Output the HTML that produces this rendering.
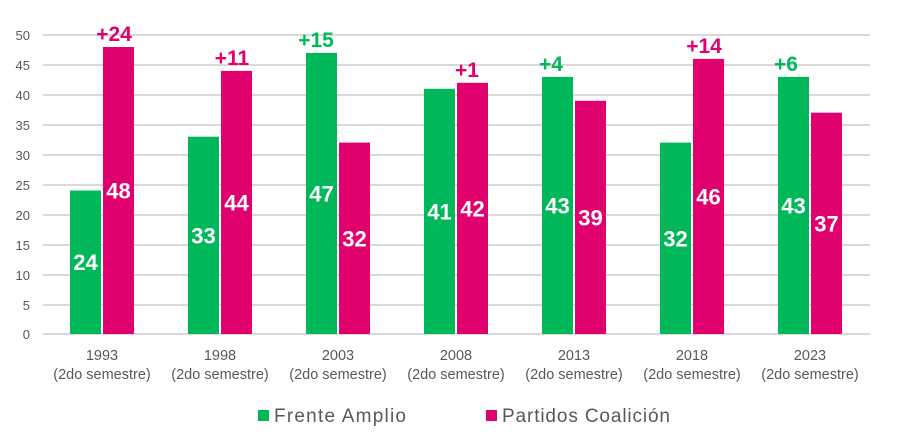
<!DOCTYPE html>
<html><head><meta charset="utf-8"><style>
html,body{margin:0;padding:0;background:#fff;}
svg{display:block;font-family:"Liberation Sans",sans-serif;}
</style></head><body>
<svg width="904" height="447" viewBox="0 0 904 447" xmlns="http://www.w3.org/2000/svg">
<g stroke="#d9d9d9" stroke-width="2">
<line x1="43" x2="870" y1="35" y2="35"/><line x1="43" x2="870" y1="65" y2="65"/>
<line x1="43" x2="870" y1="95" y2="95"/><line x1="43" x2="870" y1="125" y2="125"/>
<line x1="43" x2="870" y1="155" y2="155"/><line x1="43" x2="870" y1="185" y2="185"/>
<line x1="43" x2="870" y1="215" y2="215"/><line x1="43" x2="870" y1="245" y2="245"/>
<line x1="43" x2="870" y1="275" y2="275"/><line x1="43" x2="870" y1="305" y2="305"/>
<line x1="43" x2="870" y1="334" y2="334"/>
</g>
<g fill="#595959" font-size="13" text-anchor="end">
<text x="30" y="40">50</text><text x="30" y="70">45</text><text x="30" y="100">40</text>
<text x="30" y="130">35</text><text x="30" y="160">30</text><text x="30" y="190">25</text>
<text x="30" y="220">20</text><text x="30" y="250">15</text><text x="30" y="280">10</text>
<text x="30" y="310">5</text><text x="30" y="339">0</text>
</g>
<g fill="#00b85a">
<rect x="70" y="190.5" width="31" height="143.5"/>
<rect x="188" y="136.7" width="31" height="197.3"/>
<rect x="306" y="52.9" width="31" height="281.1"/>
<rect x="424" y="88.8" width="31" height="245.2"/>
<rect x="542" y="76.9" width="31" height="257.1"/>
<rect x="660" y="142.6" width="31" height="191.4"/>
<rect x="778" y="76.9" width="31" height="257.1"/>
<rect x="258" y="410" width="11" height="11"/>
</g>
<g fill="#e0006e">
<rect x="103" y="47" width="31" height="287"/>
<rect x="221" y="70.9" width="31" height="263.1"/>
<rect x="339" y="142.6" width="31" height="191.4"/>
<rect x="457" y="82.8" width="31" height="251.2"/>
<rect x="575" y="100.8" width="31" height="233.2"/>
<rect x="693" y="58.9" width="31" height="275.1"/>
<rect x="811" y="112.7" width="31" height="221.3"/>
<rect x="486" y="410" width="11" height="11"/>
</g>
<g fill="#fff" font-size="22" font-weight="bold" text-anchor="middle">
<text x="85.5" y="270">24</text><text x="118.5" y="198.5">48</text>
<text x="203.5" y="243.4">33</text><text x="236.5" y="210.5">44</text>
<text x="321.5" y="201.5">47</text><text x="354.5" y="246.3">32</text>
<text x="439.5" y="219.4">41</text><text x="472.5" y="216.4">42</text>
<text x="557.5" y="213.5">43</text><text x="590.5" y="225.4">39</text>
<text x="675.5" y="246.3">32</text><text x="708.5" y="204.5">46</text>
<text x="793.5" y="213.5">43</text><text x="826.5" y="231.4">37</text>
</g>
<g font-size="21" font-weight="bold" text-anchor="middle">
<text x="114" y="41" fill="#e0006e">+24</text>
<text x="232" y="65" fill="#e0006e">+11</text>
<text x="316" y="47" fill="#00b85a">+15</text>
<text x="467" y="77" fill="#e0006e">+1</text>
<text x="551" y="71" fill="#00b85a">+4</text>
<text x="704" y="53" fill="#e0006e">+14</text>
<text x="786" y="71" fill="#00b85a">+6</text>
</g>
<g fill="#595959" font-size="14.5" text-anchor="middle">
<text x="102" y="360">1993</text><text x="102" y="379">(2do semestre)</text>
<text x="220" y="360">1998</text><text x="220" y="379">(2do semestre)</text>
<text x="338" y="360">2003</text><text x="338" y="379">(2do semestre)</text>
<text x="456" y="360">2008</text><text x="456" y="379">(2do semestre)</text>
<text x="574" y="360">2013</text><text x="574" y="379">(2do semestre)</text>
<text x="692" y="360">2018</text><text x="692" y="379">(2do semestre)</text>
<text x="810" y="360">2023</text><text x="810" y="379">(2do semestre)</text>
</g>
<text x="274" y="422" font-size="19" fill="#595959" textLength="132">Frente Amplio</text>
<text x="502" y="422" font-size="19" fill="#595959" textLength="168">Partidos Coalición</text>
</svg>
</body></html>
